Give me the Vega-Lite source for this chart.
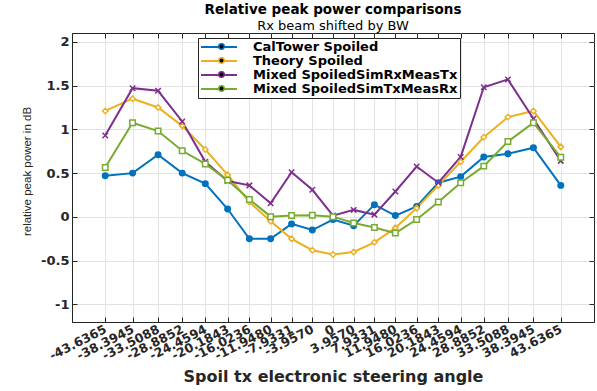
{
  "$schema": "https://vega.github.io/schema/vega-lite/v6.json",
  "width": 522,
  "height": 289,
  "autosize": {"type": "none"},
  "padding": {"left": 72, "top": 33, "right": 3, "bottom": 69},
  "background": "white",
  "title": {
    "text": "Relative peak power comparisons",
    "subtitle": "Rx beam shifted by BW",
    "anchor": "middle",
    "font": "DejaVu Sans",
    "fontSize": 13.5,
    "fontWeight": "bold",
    "color": "#000000",
    "subtitleFont": "DejaVu Sans",
    "subtitleFontSize": 13,
    "subtitleColor": "#000000",
    "subtitlePadding": 3,
    "offset": 0
  },
  "config": {
    "view": {"stroke": "#262626", "strokeWidth": 1},
    "axis": {"domainColor": "#262626", "tickColor": "#262626", "gridColor": "#e3e3e3", "gridWidth": 1}
  },
  "data": {
    "values": [
      {"angle": -43.6365, "series": "CalTower Spoiled", "value": 0.47},
      {"angle": -38.3945, "series": "CalTower Spoiled", "value": 0.50},
      {"angle": -33.5088, "series": "CalTower Spoiled", "value": 0.71},
      {"angle": -28.8852, "series": "CalTower Spoiled", "value": 0.50},
      {"angle": -24.4594, "series": "CalTower Spoiled", "value": 0.38},
      {"angle": -20.1843, "series": "CalTower Spoiled", "value": 0.09},
      {"angle": -16.0236, "series": "CalTower Spoiled", "value": -0.25},
      {"angle": -11.9480, "series": "CalTower Spoiled", "value": -0.25},
      {"angle": -7.9331, "series": "CalTower Spoiled", "value": -0.08},
      {"angle": -3.9570, "series": "CalTower Spoiled", "value": -0.15},
      {"angle": 0, "series": "CalTower Spoiled", "value": -0.03},
      {"angle": 3.9570, "series": "CalTower Spoiled", "value": -0.10},
      {"angle": 7.9331, "series": "CalTower Spoiled", "value": 0.14},
      {"angle": 11.9480, "series": "CalTower Spoiled", "value": 0.015},
      {"angle": 16.0236, "series": "CalTower Spoiled", "value": 0.12},
      {"angle": 20.1843, "series": "CalTower Spoiled", "value": 0.39},
      {"angle": 24.4594, "series": "CalTower Spoiled", "value": 0.46},
      {"angle": 28.8852, "series": "CalTower Spoiled", "value": 0.685},
      {"angle": 33.5088, "series": "CalTower Spoiled", "value": 0.72},
      {"angle": 38.3945, "series": "CalTower Spoiled", "value": 0.79},
      {"angle": 43.6365, "series": "CalTower Spoiled", "value": 0.36},

      {"angle": -43.6365, "series": "Theory Spoiled", "value": 1.21},
      {"angle": -38.3945, "series": "Theory Spoiled", "value": 1.35},
      {"angle": -33.5088, "series": "Theory Spoiled", "value": 1.25},
      {"angle": -28.8852, "series": "Theory Spoiled", "value": 1.04},
      {"angle": -24.4594, "series": "Theory Spoiled", "value": 0.77},
      {"angle": -20.1843, "series": "Theory Spoiled", "value": 0.48},
      {"angle": -16.0236, "series": "Theory Spoiled", "value": 0.17},
      {"angle": -11.9480, "series": "Theory Spoiled", "value": -0.05},
      {"angle": -7.9331, "series": "Theory Spoiled", "value": -0.25},
      {"angle": -3.9570, "series": "Theory Spoiled", "value": -0.38},
      {"angle": 0, "series": "Theory Spoiled", "value": -0.43},
      {"angle": 3.9570, "series": "Theory Spoiled", "value": -0.40},
      {"angle": 7.9331, "series": "Theory Spoiled", "value": -0.29},
      {"angle": 11.9480, "series": "Theory Spoiled", "value": -0.125},
      {"angle": 16.0236, "series": "Theory Spoiled", "value": 0.10},
      {"angle": 20.1843, "series": "Theory Spoiled", "value": 0.36},
      {"angle": 24.4594, "series": "Theory Spoiled", "value": 0.63},
      {"angle": 28.8852, "series": "Theory Spoiled", "value": 0.91},
      {"angle": 33.5088, "series": "Theory Spoiled", "value": 1.14},
      {"angle": 38.3945, "series": "Theory Spoiled", "value": 1.21},
      {"angle": 43.6365, "series": "Theory Spoiled", "value": 0.80},

      {"angle": -43.6365, "series": "Mixed SpoiledSimRxMeasTx", "value": 0.93},
      {"angle": -38.3945, "series": "Mixed SpoiledSimRxMeasTx", "value": 1.47},
      {"angle": -33.5088, "series": "Mixed SpoiledSimRxMeasTx", "value": 1.44},
      {"angle": -28.8852, "series": "Mixed SpoiledSimRxMeasTx", "value": 1.09},
      {"angle": -24.4594, "series": "Mixed SpoiledSimRxMeasTx", "value": 0.63},
      {"angle": -20.1843, "series": "Mixed SpoiledSimRxMeasTx", "value": 0.41},
      {"angle": -16.0236, "series": "Mixed SpoiledSimRxMeasTx", "value": 0.36},
      {"angle": -11.9480, "series": "Mixed SpoiledSimRxMeasTx", "value": 0.155},
      {"angle": -7.9331, "series": "Mixed SpoiledSimRxMeasTx", "value": 0.51},
      {"angle": -3.9570, "series": "Mixed SpoiledSimRxMeasTx", "value": 0.31},
      {"angle": 0, "series": "Mixed SpoiledSimRxMeasTx", "value": 0.015},
      {"angle": 3.9570, "series": "Mixed SpoiledSimRxMeasTx", "value": 0.08},
      {"angle": 7.9331, "series": "Mixed SpoiledSimRxMeasTx", "value": 0.026},
      {"angle": 11.9480, "series": "Mixed SpoiledSimRxMeasTx", "value": 0.29},
      {"angle": 16.0236, "series": "Mixed SpoiledSimRxMeasTx", "value": 0.575},
      {"angle": 20.1843, "series": "Mixed SpoiledSimRxMeasTx", "value": 0.39},
      {"angle": 24.4594, "series": "Mixed SpoiledSimRxMeasTx", "value": 0.685},
      {"angle": 28.8852, "series": "Mixed SpoiledSimRxMeasTx", "value": 1.48},
      {"angle": 33.5088, "series": "Mixed SpoiledSimRxMeasTx", "value": 1.57},
      {"angle": 38.3945, "series": "Mixed SpoiledSimRxMeasTx", "value": 1.12},
      {"angle": 43.6365, "series": "Mixed SpoiledSimRxMeasTx", "value": 0.64},

      {"angle": -43.6365, "series": "Mixed SpoiledSimTxMeasRx", "value": 0.565},
      {"angle": -38.3945, "series": "Mixed SpoiledSimTxMeasRx", "value": 1.076},
      {"angle": -33.5088, "series": "Mixed SpoiledSimTxMeasRx", "value": 0.98},
      {"angle": -28.8852, "series": "Mixed SpoiledSimTxMeasRx", "value": 0.755},
      {"angle": -24.4594, "series": "Mixed SpoiledSimTxMeasRx", "value": 0.605},
      {"angle": -20.1843, "series": "Mixed SpoiledSimTxMeasRx", "value": 0.42},
      {"angle": -16.0236, "series": "Mixed SpoiledSimTxMeasRx", "value": 0.20},
      {"angle": -11.9480, "series": "Mixed SpoiledSimTxMeasRx", "value": 0.003},
      {"angle": -7.9331, "series": "Mixed SpoiledSimTxMeasRx", "value": 0.015},
      {"angle": -3.9570, "series": "Mixed SpoiledSimTxMeasRx", "value": 0.02},
      {"angle": 0, "series": "Mixed SpoiledSimTxMeasRx", "value": 0.003},
      {"angle": 3.9570, "series": "Mixed SpoiledSimTxMeasRx", "value": -0.07},
      {"angle": 7.9331, "series": "Mixed SpoiledSimTxMeasRx", "value": -0.12},
      {"angle": 11.9480, "series": "Mixed SpoiledSimTxMeasRx", "value": -0.185},
      {"angle": 16.0236, "series": "Mixed SpoiledSimTxMeasRx", "value": -0.03},
      {"angle": 20.1843, "series": "Mixed SpoiledSimTxMeasRx", "value": 0.17},
      {"angle": 24.4594, "series": "Mixed SpoiledSimTxMeasRx", "value": 0.39},
      {"angle": 28.8852, "series": "Mixed SpoiledSimTxMeasRx", "value": 0.58},
      {"angle": 33.5088, "series": "Mixed SpoiledSimTxMeasRx", "value": 0.86},
      {"angle": 38.3945, "series": "Mixed SpoiledSimTxMeasRx", "value": 1.076},
      {"angle": 43.6365, "series": "Mixed SpoiledSimTxMeasRx", "value": 0.68}
    ]
  },
  "layer": [
    {
      "mark": {"type": "line", "strokeWidth": 2},
      "encoding": {
        "x": {
          "field": "angle",
          "type": "quantitative",
          "scale": {"domain": [-50, 50], "nice": false, "zero": false},
          "axis": {
            "orient": "bottom",
            "values": [-43.6365, -38.3945, -33.5088, -28.8852, -24.4594, -20.1843, -16.0236, -11.948, -7.9331, -3.957, 0, 3.957, 7.9331, 11.948, 16.0236, 20.1843, 24.4594, 28.8852, 33.5088, 38.3945, 43.6365],
            "labelExpr": "datum.value == 0 ? '0' : replace(format(datum.value, '.4f'), '−', '-')",
            "labelAngle": -27,
            "labelAlign": "right",
            "labelBaseline": "middle",
            "labelFont": "DejaVu Sans",
            "labelFontWeight": "bold",
            "labelFontSize": 12.5,
            "labelColor": "#262626",
            "labelOverlap": false,
            "labelFlush": false,
            "labelPadding": 11,
            "tickSize": -5,
            "grid": true,
            "title": "Spoil tx electronic steering angle",
            "titleFont": "DejaVu Sans",
            "titleFontSize": 16,
            "titleFontWeight": "bold",
            "titleColor": "#262626",
            "titleBaseline": "alphabetic",
            "titleY": 59
          }
        },
        "y": {
          "field": "value",
          "type": "quantitative",
          "scale": {"domain": [-1.2, 2.1], "nice": false, "zero": false},
          "axis": {
            "orient": "left",
            "values": [-1, -0.5, 0, 0.5, 1, 1.5, 2],
            "labelExpr": "replace(format(datum.value, '~g'), '−', '-')",
            "labelFont": "DejaVu Sans",
            "labelFontWeight": "bold",
            "labelFontSize": 13,
            "labelColor": "#262626",
            "labelPadding": 8,
            "tickSize": -5,
            "grid": true,
            "title": "relative peak power in dB",
            "titleFont": "Liberation Sans",
            "titleFontSize": 11.5,
            "titleFontWeight": "normal",
            "titleColor": "#262626",
            "titleBaseline": "middle",
            "titleAlign": "center",
            "titleX": -45,
            "titleY": 138
          }
        },
        "color": {
          "field": "series",
          "type": "nominal",
          "scale": {
            "domain": ["CalTower Spoiled", "Theory Spoiled", "Mixed SpoiledSimRxMeasTx", "Mixed SpoiledSimTxMeasRx"],
            "range": ["#0072BD", "#EDB120", "#7E2F8E", "#77AC30"]
          },
          "legend": {
            "orient": "none",
            "legendX": 126,
            "legendY": 5,
            "title": null,
            "symbolType": "M-3,0L3,0",
            "symbolSize": 144,
            "symbolStrokeWidth": 2,
            "symbolOffset": 12,
            "labelFont": "DejaVu Sans",
            "labelFontWeight": "bold",
            "labelFontSize": 13,
            "labelColor": "#000000",
            "labelOffset": 27,
            "labelLimit": 400,
            "rowPadding": -3.5,
            "padding": 2,
            "strokeColor": "#262626",
            "fillColor": "#ffffff"
          }
        }
      }
    },
    {
      "mark": {"type": "point", "size": 30, "strokeWidth": 1.5, "opacity": 1},
      "encoding": {
        "x": {
          "field": "angle",
          "type": "quantitative",
          "axis": {
            "orient": "top",
            "values": [-43.6365, -38.3945, -33.5088, -28.8852, -24.4594, -20.1843, -16.0236, -11.948, -7.9331, -3.957, 0, 3.957, 7.9331, 11.948, 16.0236, 20.1843, 24.4594, 28.8852, 33.5088, 38.3945, 43.6365],
            "labels": false,
            "domain": false,
            "grid": false,
            "tickSize": -5,
            "title": null
          }
        },
        "y": {
          "field": "value",
          "type": "quantitative",
          "axis": {
            "orient": "right",
            "values": [-1, -0.5, 0, 0.5, 1, 1.5, 2],
            "labels": false,
            "domain": false,
            "grid": false,
            "tickSize": -5,
            "title": null
          }
        },
        "color": {
          "field": "series",
          "type": "nominal",
          "legend": {
            "orient": "none",
            "legendX": 126,
            "legendY": 5,
            "title": null,
            "symbolSize": 30,
            "symbolStrokeWidth": 1.5,
            "symbolOffset": 15,
            "labelExpr": "''",
            "labelFont": "DejaVu Sans",
            "labelFontWeight": "bold",
            "labelFontSize": 13,
            "labelOffset": 4,
            "rowPadding": -3.5,
            "padding": 2,
            "encode": {"symbols": {"update": {"fill": {"scale": "fill", "field": "value"}}}}
          }
        },
        "shape": {
          "field": "series",
          "type": "nominal",
          "scale": {
            "domain": ["CalTower Spoiled", "Theory Spoiled", "Mixed SpoiledSimRxMeasTx", "Mixed SpoiledSimTxMeasRx"],
            "range": ["circle", "diamond", "M-1,-1L1,1M-1,1L1,-1", "square"]
          }
        },
        "fill": {
          "field": "series",
          "type": "nominal",
          "scale": {
            "domain": ["CalTower Spoiled", "Theory Spoiled", "Mixed SpoiledSimRxMeasTx", "Mixed SpoiledSimTxMeasRx"],
            "range": ["#0072BD", "#ffffff", "#ffffff", "#ffffff"]
          },
          "legend": null
        }
      }
    }
  ],
  "resolve": {
    "axis": {"x": "independent", "y": "independent"},
    "legend": {"color": "independent"}
  }
}
